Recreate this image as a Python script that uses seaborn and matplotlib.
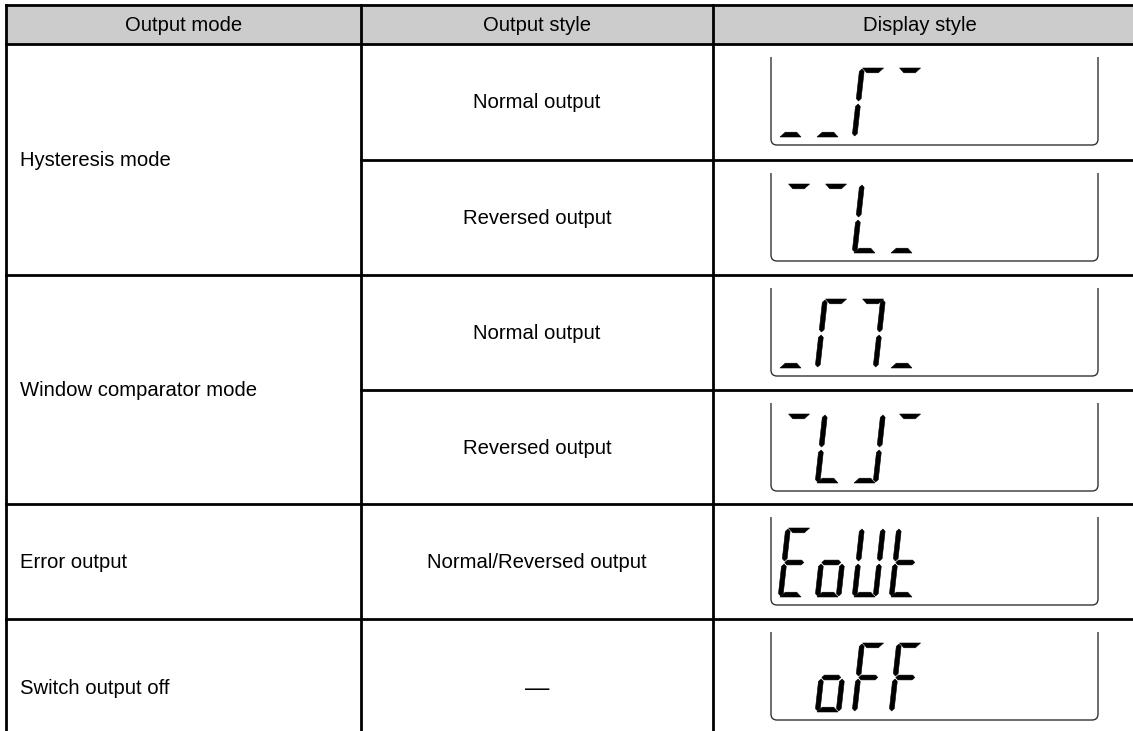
import matplotlib
matplotlib.use("Agg")
import matplotlib.pyplot as plt
from matplotlib.patches import Rectangle, Polygon, PathPatch
from matplotlib.path import Path
import seaborn as sns

# table content
header_labels = ["Output mode", "Output style", "Display style"]
mode_labels = ["Hysteresis mode", "Window comparator mode", "Error output", "Switch output off"]
mode_rows = [2, 2, 1, 1]
style_labels = ["Normal output", "Reversed output", "Normal output", "Reversed output",
                "Normal/Reversed output", "\u2014"]
# lit segments of the 4-digit LCD for each sub row (a top, b/c right, d bottom, e/f left, g middle)
display_digits = [
    ["d", "d", "aef", "a"],
    ["a", "a", "def", "d"],
    ["d", "aef", "abc", "d"],
    ["a", "def", "bcd", "a"],
    ["adefg", "cdeg", "bcdef", "defg"],
    ["", "cdeg", "aefg", "aefg"],
]

# layout in pixels (y grows downwards)
W, H = 1133, 731
col_x = [6, 361, 713, 1210]
row_y = [5, 44, 160, 275, 390, 504, 619, 757]
box_x = (771, 1098)
box_h = 88
digit_pitch = 37
digit_h = 69
seg_t = 4.8
slant = 0.11


def seg_poly(code):
    h, t, hm = digit_h, seg_t, digit_h / 2
    def vert(c, v0, v1):
        return [(c, v0), (c + t / 2, v0 + t / 2), (c + t / 2, v1 - t / 2),
                (c, v1), (c - t / 2, v1 - t / 2), (c - t / 2, v0 + t / 2)]
    if code == "a":
        return [(3, h), (24, h), (24 - t, h - t), (3 + t, h - t)]
    if code == "d":
        return [(2, 0), (23, 0), (23 - t, t), (2 + t, t)]
    if code == "g":
        return [(3, hm), (3 + t / 2, hm + t / 2), (22 - t / 2, hm + t / 2),
                (22, hm), (22 - t / 2, hm - t / 2), (3 + t / 2, hm - t / 2)]
    if code == "f":
        return vert(2.5, hm + 1.5, h - 1)
    if code == "e":
        return vert(2.5, 1, hm - 1.5)
    if code == "b":
        return vert(23.5, hm + 1.5, h - 1)
    if code == "c":
        return vert(23.5, 1, hm - 1.5)


def draw_lcd(ax, top, bottom, digits):
    xl, xr = box_x
    r = 6
    verts = [(xl, top), (xl, bottom - r), (xl, bottom), (xl + r, bottom),
             (xr - r, bottom), (xr, bottom), (xr, bottom - r), (xr, top)]
    codes = [Path.MOVETO, Path.LINETO, Path.CURVE3, Path.CURVE3,
             Path.LINETO, Path.CURVE3, Path.CURVE3, Path.LINETO]
    ax.add_patch(PathPatch(Path(verts, codes), fill=False, lw=1.0, ec="#333333"))
    yb = bottom - 8
    for i, segs in enumerate(digits):
        x0 = xl + 7 + i * digit_pitch
        for s in segs:
            pts = [(x0 + u + slant * v, yb - v) for u, v in seg_poly(s)]
            ax.add_patch(Polygon(pts, closed=True, fc="black", ec="black", lw=0.4))


sns.set_theme(style="white")
plt.rcParams["font.family"] = ["Liberation Sans", "DejaVu Sans"]

fig = plt.figure(figsize=(W / 100, H / 100), dpi=100)
ax = fig.add_axes([0, 0, 1, 1])
ax.set_xlim(0, W)
ax.set_ylim(H, 0)
ax.axis("off")

fs = 14.6
lw = 2.0
tc = "black"

# header
ax.add_patch(Rectangle((col_x[0], row_y[0]), col_x[-1] - col_x[0], row_y[1] - row_y[0],
                       fc="#cccccc", ec="none"))
head_x = [(col_x[0] + col_x[1]) / 2, (col_x[1] + col_x[2]) / 2, 920]
for hx, lab in zip(head_x, header_labels):
    ax.text(hx, (row_y[0] + row_y[1]) / 2 + 1, lab, ha="center", va="center",
            fontsize=fs, color=tc)

# horizontal rules: header lines full width, sub-row splits only right of the mode column
mode_edges = [1]
for n in mode_rows:
    mode_edges.append(mode_edges[-1] + n)
for k, y in enumerate(row_y[:-1]):
    x_start = col_x[0] if (k == 0 or k in mode_edges) else col_x[1]
    ax.plot([x_start, col_x[-1]], [y, y], color="black", lw=lw, solid_capstyle="projecting")
for x in col_x[:-1]:
    ax.plot([x, x], [row_y[0], row_y[-1]], color="black", lw=lw, solid_capstyle="projecting")

# mode column labels
for lab, a, b in zip(mode_labels, mode_edges[:-1], mode_edges[1:]):
    top, bot = row_y[a], row_y[b]
    ax.text(col_x[0] + 14, (top + bot) / 2 + 1, lab, ha="left", va="center",
            fontsize=fs, color=tc)

# output style and display style columns
for i, lab in enumerate(style_labels):
    top, bot = row_y[i + 1], row_y[i + 2]
    ax.text((col_x[1] + col_x[2]) / 2, (top + bot) / 2 + 1, lab, ha="center", va="center",
            fontsize=fs + (3 if lab == "\u2014" else 0), color=tc)
    draw_lcd(ax, top + 13, top + 13 + box_h, display_digits[i])

fig.savefig("out.png", dpi=100)
